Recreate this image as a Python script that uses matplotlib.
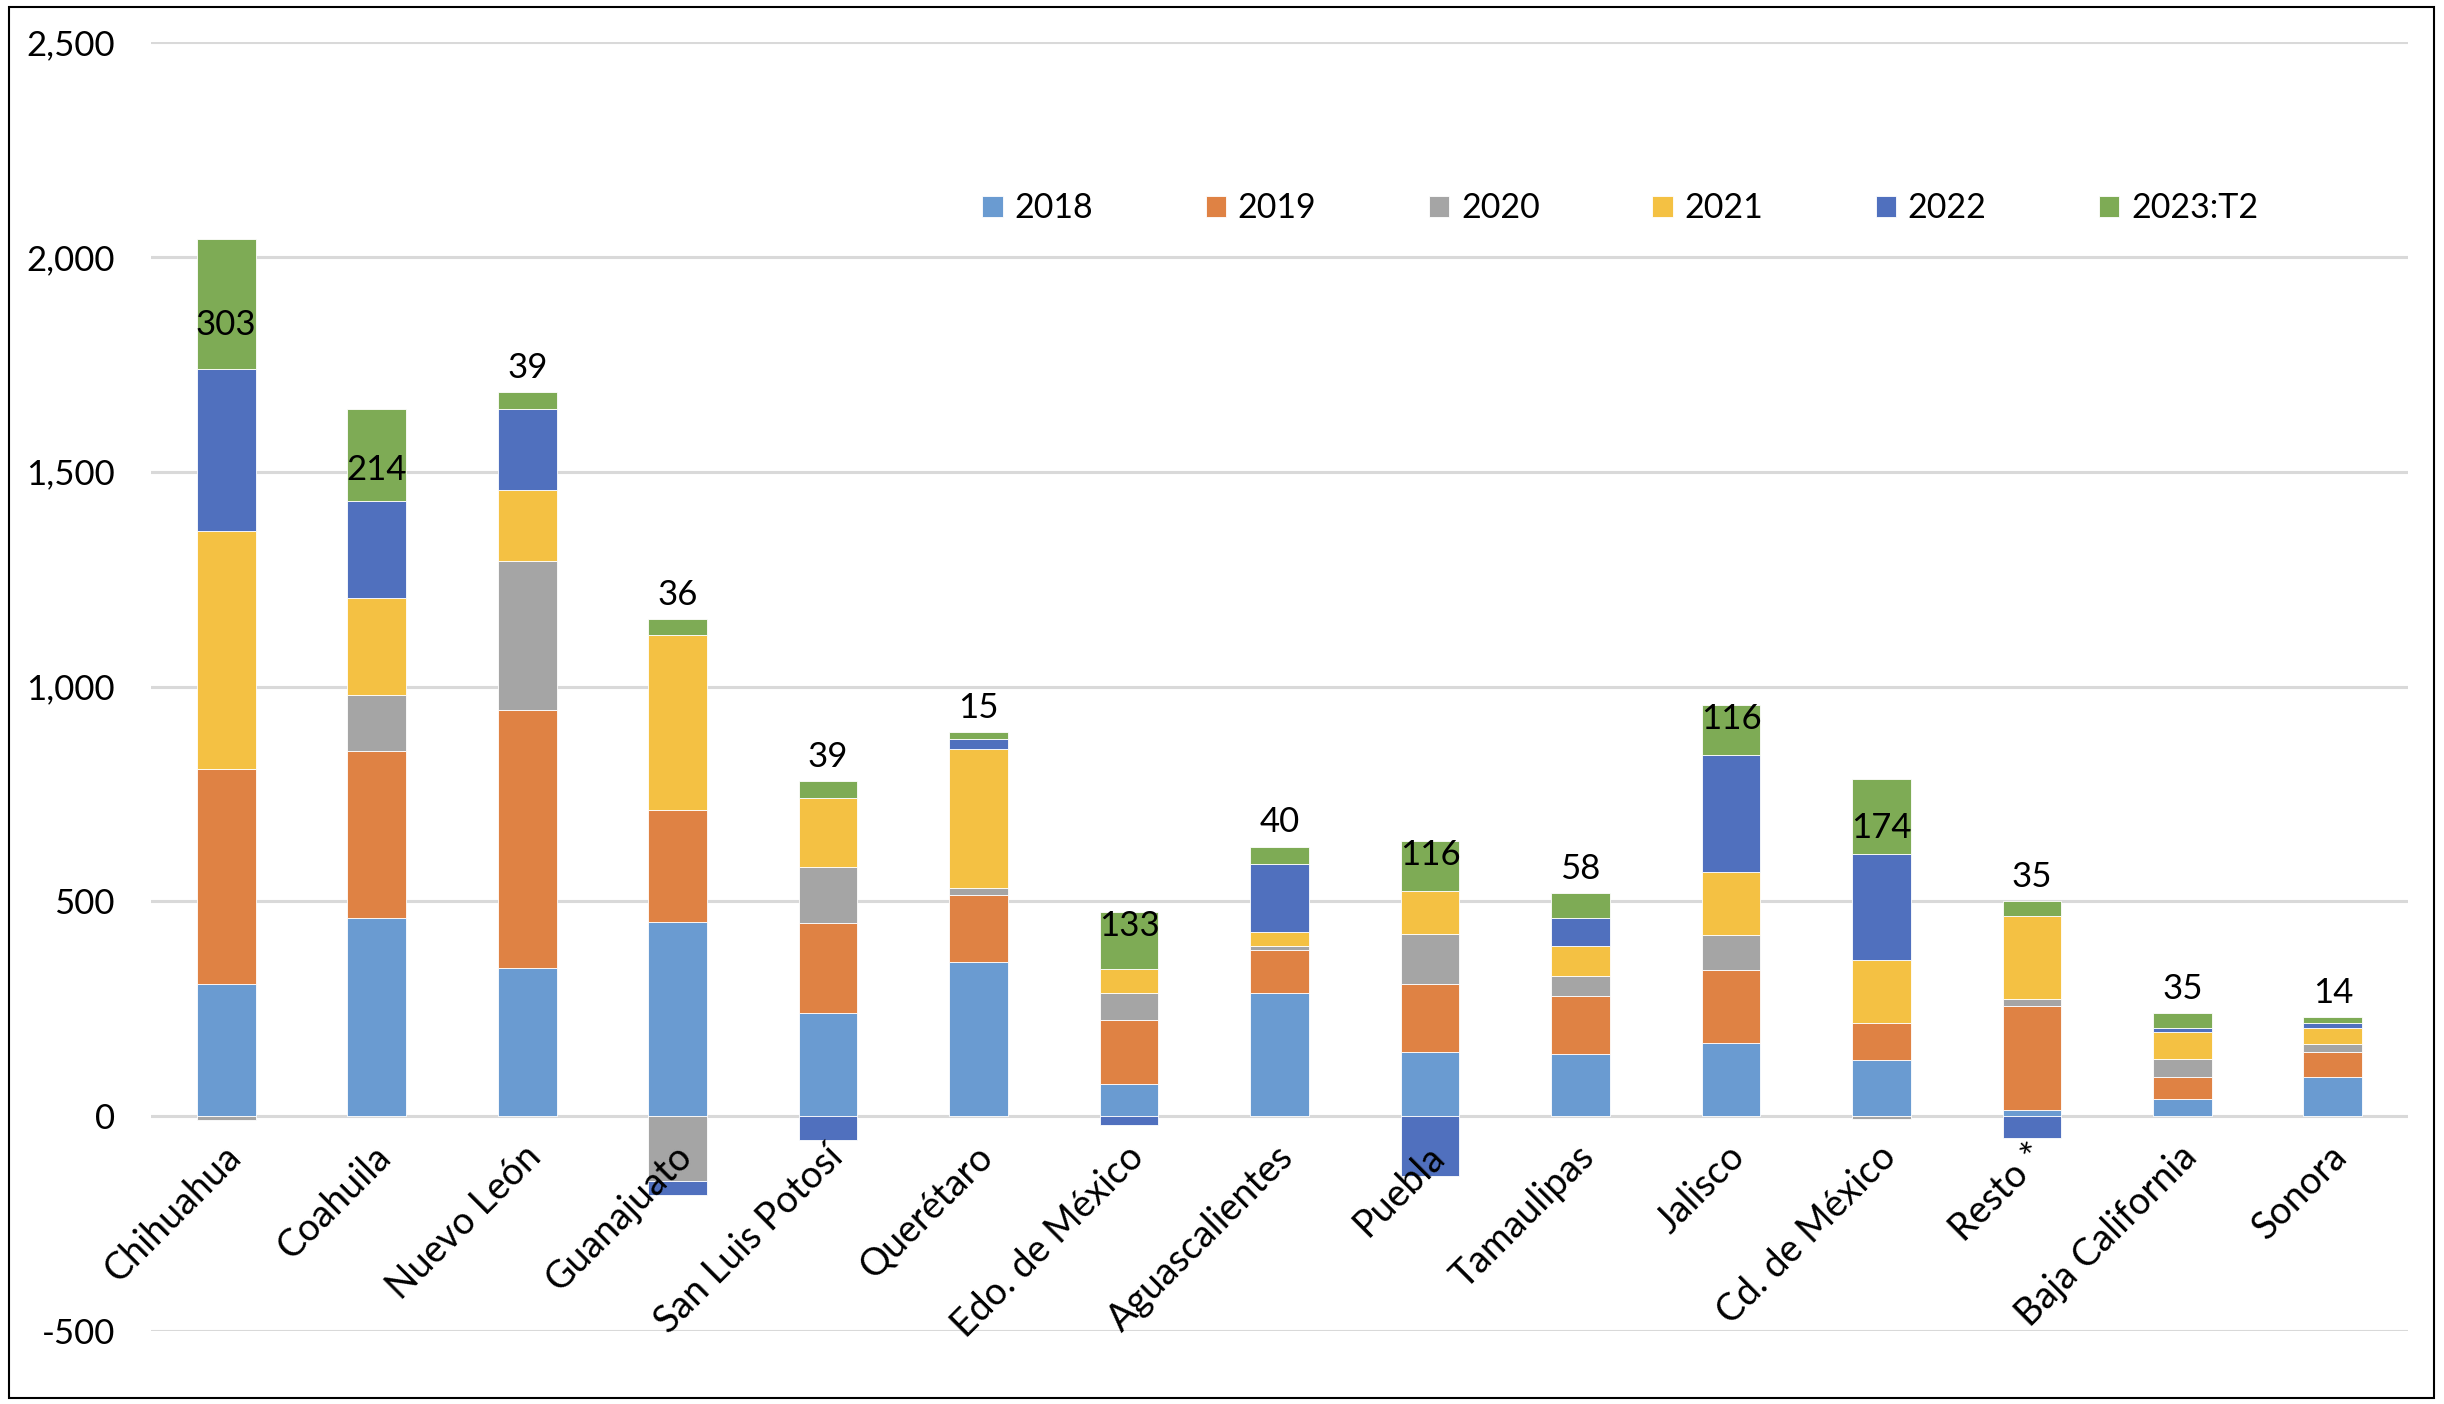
import numpy as np
import matplotlib
matplotlib.use("Agg")
import matplotlib.pyplot as plt
from matplotlib.patches import Rectangle

plt.rcParams['font.family'] = ['Lato', 'DejaVu Sans']

estados = ["Chihuahua", "Coahuila", "Nuevo León", "Guanajuato", "San Luis Potosí",
           "Querétaro", "Edo. de México", "Aguascalientes", "Puebla", "Tamaulipas",
           "Jalisco", "Cd. de México", "Resto *", "Baja California", "Sonora"]
series = ["2018", "2019", "2020", "2021", "2022", "2023:T2"]

v2018 = [307, 461, 344, 453, 240, 358, 75, 287, 149, 144, 170, 130, 15, 39, 91]
v2019 = [501, 388, 601, 259, 209, 157, 149, 100, 159, 135, 170, 86, 241, 52, 59]
v2020 = [-8, 132, 347, -150, 131, 17, 63, 10, 117, 48, 81, -7, 16, 43, 19]
v2021 = [555, 225, 165, 409, 161, 323, 55, 32, 99, 70, 147, 147, 194, 63, 36]
v2022 = [375, 226, 190, -33, -56, 24, -20, 158, -139, 64, 272, 248, -51, 8, 12]
v2023 = [303, 214, 39, 36, 39, 15, 133, 40, 116, 58, 116, 174, 35, 35, 14]

colores = ["#6A9BD1", "#DF8244", "#A5A5A5", "#F4C143", "#5070BE", "#7EAB55"]

data = [v2018, v2019, v2020, v2021, v2022, v2023]

fig = plt.figure(figsize=(24.44, 14.04), dpi=100)
ax = fig.add_axes([0.0618, 0.052, 0.9235, 0.918])

x = np.arange(len(estados))
ancho = 0.39
pos_base = np.zeros(len(estados))
neg_base = np.zeros(len(estados))
for vals, col, nom in zip(data, colores, series):
    vals = np.array(vals, dtype=float)
    base = np.where(vals >= 0, pos_base, neg_base)
    ax.bar(x, vals, ancho, bottom=base, color=col, label=nom, zorder=3,
           edgecolor='white', linewidth=0.6)
    pos_base += np.where(vals >= 0, vals, 0)
    neg_base += np.where(vals < 0, vals, 0)

# etiquetas del último periodo
for i, g in enumerate(v2023):
    top = pos_base[i]
    if g > 150:
        ax.text(i, top - 0.66 * g, str(g), ha='center', va='center', fontsize=25, zorder=5)
    elif g >= 100:
        ax.text(i, top - 32, str(g), ha='center', va='center', fontsize=25, zorder=5)
    else:
        ax.annotate(str(g), (i, top), xytext=(0, 6), textcoords='offset points',
                    ha='center', va='bottom', fontsize=25, zorder=5)

ax.set_ylim(-500, 2500)
ax.set_xlim(-0.5, len(estados) - 0.5)
ax.set_yticks(np.arange(-500, 2501, 500))
ax.set_yticklabels([f"{t:,}" for t in range(-500, 2501, 500)])
ax.yaxis.grid(True, color='#D9D9D9', linewidth=2.2, zorder=0)
ax.set_axisbelow(True)
ax.tick_params(axis='y', length=0, labelsize=25, pad=26)
ax.set_xticks([])
for s in ax.spines.values():
    s.set_visible(False)

for i, nom in enumerate(estados):
    ax.annotate(nom, (i, 0), xytext=(-3, -16), textcoords='offset points',
                rotation=45, ha='right', va='top', rotation_mode='anchor',
                fontsize=27, zorder=6)

ax.legend(loc='center', bbox_to_anchor=(0.651, 0.871), ncol=6, frameon=False,
          fontsize=24.5, handlelength=0.6, handleheight=0.6, handletextpad=0.35,
          columnspacing=3.3)

fig.patches.append(Rectangle((0.0035, 0.004), 0.9925, 0.991, transform=fig.transFigure,
                             fill=False, edgecolor='black', linewidth=1.5))

fig.savefig("out.png", dpi=100)
